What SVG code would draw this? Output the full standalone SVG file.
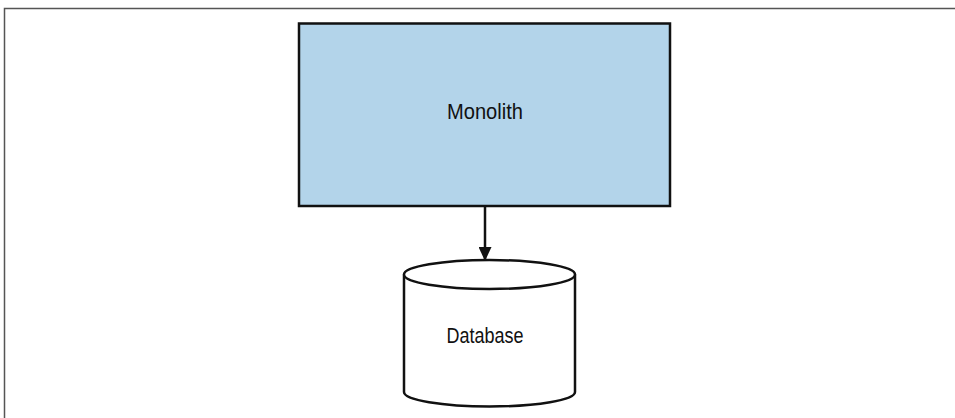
<svg xmlns="http://www.w3.org/2000/svg" width="955" height="418" viewBox="0 0 955 418">
<defs>
<style>
.lbl{font-family:"Liberation Sans",Arial,sans-serif;font-size:22px;fill:#111;text-anchor:middle}
.shape{stroke:#111;stroke-width:2.5}
</style>
<marker id="ah" viewBox="0 0 14 13" refX="14" refY="6.5" markerWidth="14" markerHeight="13" markerUnits="userSpaceOnUse" orient="auto">
<path d="M0,0 L14,6.5 L0,13 Z" fill="#111"/>
</marker>
</defs>
<rect width="955" height="418" fill="#fff"/>
<path d="M4.5,418 L4.5,8.5 L955,8.5" fill="none" stroke="#555" stroke-width="1.5"/>
<g id="monolith">
<rect class="shape" x="299" y="23.5" width="371" height="182.5" fill="#b3d4ea"/>
<text class="lbl" x="485" y="119" textLength="76" lengthAdjust="spacingAndGlyphs">Monolith</text>
</g>
<g id="database">
<path class="shape" d="M404,274.5 L404,392 A85.5,14.5 0 0 0 575,392 L575,274.5" fill="#fff"/>
<ellipse class="shape" cx="489.5" cy="274.5" rx="85.5" ry="14.5" fill="#fff"/>
<text class="lbl" x="485" y="343" textLength="77" lengthAdjust="spacingAndGlyphs">Database</text>
</g>
<g id="connectors">
<line x1="485" y1="206" x2="485" y2="261" stroke="#111" stroke-width="2.5" marker-end="url(#ah)"/>
</g>
</svg>
